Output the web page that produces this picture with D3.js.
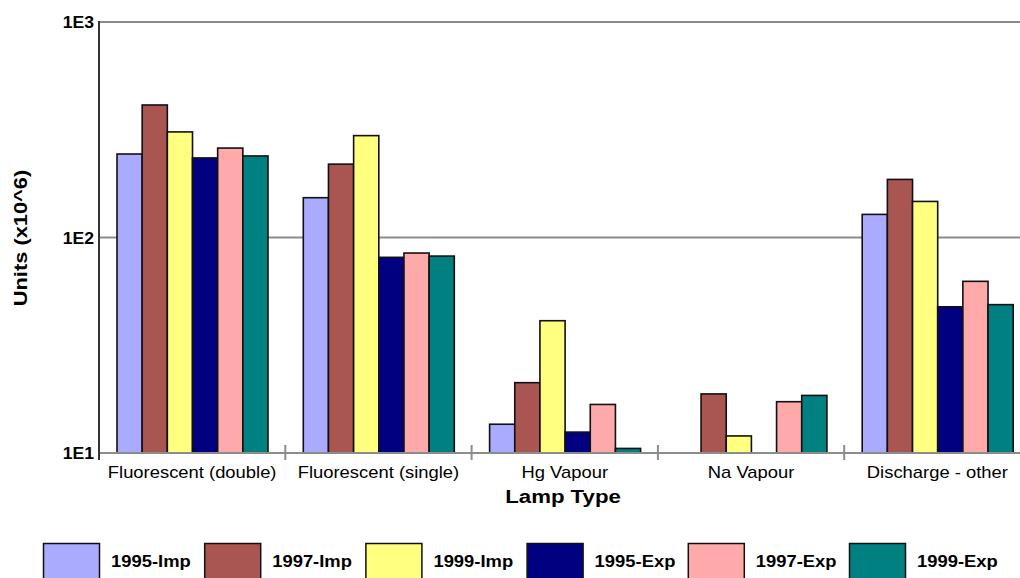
<!DOCTYPE html>
<html>
<head>
<meta charset="utf-8">
<script src="https://cdn.jsdelivr.net/npm/d3@7/dist/d3.min.js"></script>
<style>
  html, body { margin: 0; padding: 0; background: #fff; }
  svg { display: block; font-family: "Liberation Sans", Arial, sans-serif; }
</style>
</head>
<body>
<svg id="chart" width="1020" height="578"></svg>
<script>
const categories = ["Fluorescent (double)", "Fluorescent (single)", "Hg Vapour", "Na Vapour", "Discharge - other"];
const seriesNames = ["1995-Imp", "1997-Imp", "1999-Imp", "1995-Exp", "1997-Exp", "1999-Exp"];
const seriesColors = ["#aaaaff", "#a95552", "#ffff80", "#000080", "#ffaaaa", "#008080"];
const imp1995 = [244, 153, 13.6, null, 128];
const imp1997 = [412, 219, 21.2, 18.8, 186];
const imp1999 = [309, 297, 41.1, 12.0, 147];
const exp1995 = [234, 80.9, 12.5, null, 47.7];
const exp1997 = [260, 84.7, 16.8, 17.3, 62.6];
const exp1999 = [239, 82, 10.5, 18.5, 48.8];
const yTicks = [10, 100, 1000];
const yTickLabels = ["1E1", "1E2", "1E3"];
const xTitle = "Lamp Type";
const yTitle = "Units (x10^6)";

const seriesValues = [imp1995, imp1997, imp1999, exp1995, exp1997, exp1999];
const SX = 1.15;

const svg = d3.select("#chart");
const pLeft = 99, pRight = 1030.5, pTop = 22, pBottom = 453;

const x0 = d3.scaleBand().domain(categories).range([pLeft, pRight]);
const x1 = d3.scaleBand().domain(seriesNames).range([18, 169]);
const y = d3.scaleLog().domain([10, 1000]).range([pBottom, pTop]);

function stext(g, x, yy, str, opts) {
  return g.append("text")
    .attr("transform", `translate(${x},${yy}) scale(${opts.sx || SX},1)`)
    .attr("text-anchor", opts.anchor || "middle")
    .attr("font-size", opts.size)
    .attr("font-weight", opts.weight || "normal")
    .attr("fill", "#000")
    .text(str);
}

// gridlines
svg.append("g").selectAll("line")
  .data(yTicks.filter(v => v > 10))
  .join("line")
  .attr("x1", pLeft).attr("x2", 1020)
  .attr("y1", d => y(d)).attr("y2", d => y(d))
  .attr("stroke", "#8c8c8c").attr("stroke-width", 2);

// y tick labels
const yl = svg.append("g");
yTicks.forEach((v, i) => {
  stext(yl, 94, y(v) + 6, yTickLabels[i], {anchor: "end", size: 16, weight: "bold", sx: 1.1});
});

// bars
const gBars = svg.append("g");
categories.forEach((c, ci) => {
  seriesNames.forEach((s, si) => {
    const v = seriesValues[si][ci];
    if (v == null) return;
    gBars.append("rect")
      .attr("x", x0(c) + x1(s))
      .attr("y", y(v))
      .attr("width", x1.bandwidth())
      .attr("height", y(10) - y(v))
      .attr("fill", seriesColors[si])
      .attr("stroke", "#111")
      .attr("stroke-width", 1.6);
  });
});

// x axis
svg.append("line").attr("x1", pLeft).attr("x2", 1020).attr("y1", pBottom).attr("y2", pBottom)
  .attr("stroke", "#8c8c8c").attr("stroke-width", 2);
svg.append("g").selectAll("line")
  .data(categories.slice(1))
  .join("line")
  .attr("x1", d => x0(d)).attr("x2", d => x0(d))
  .attr("y1", pBottom - 8).attr("y2", pBottom + 7)
  .attr("stroke", "#8c8c8c").attr("stroke-width", 2);
// y axis
svg.append("line").attr("x1", pLeft).attr("x2", pLeft).attr("y1", pTop - 1).attr("y2", pBottom + 7)
  .attr("stroke", "#333").attr("stroke-width", 2);

// category labels
const cl = svg.append("g");
categories.forEach(c => {
  stext(cl, x0(c) + x0.bandwidth() / 2, 478, c, {size: 16});
});

// axis titles
stext(svg, 563, 503, xTitle, {size: 19, weight: "bold", sx: 1.17});
svg.append("text")
  .attr("transform", `translate(27,238) rotate(-90) scale(1.15,1)`)
  .attr("text-anchor", "middle")
  .attr("font-size", 19).attr("font-weight", "bold")
  .text(yTitle);

// legend
const legend = svg.append("g");
seriesNames.forEach((s, i) => {
  const lx = 43.5 + i * 161.2;
  legend.append("rect").attr("x", lx).attr("y", 543.5).attr("width", 56).attr("height", 36)
    .attr("fill", seriesColors[i]).attr("stroke", "#111").attr("stroke-width", 1.5);
  stext(legend, lx + 67.5, 567, s, {anchor: "start", size: 16, weight: "bold"});
});
</script>
</body>
</html>
